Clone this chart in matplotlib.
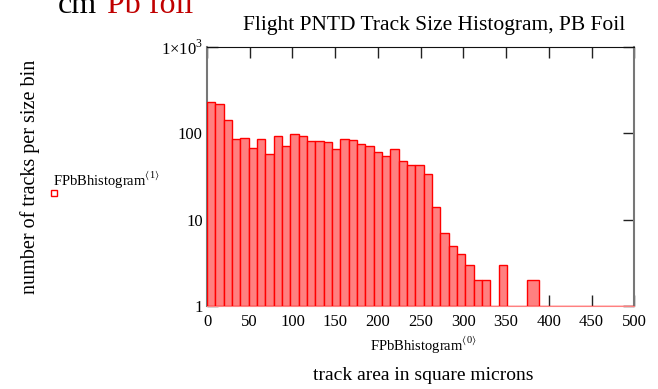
import numpy as np
import matplotlib
matplotlib.use('Agg')
import matplotlib.pyplot as plt
from matplotlib.patches import Rectangle
from matplotlib.ticker import FixedLocator, FixedFormatter, NullLocator

SERIF = ['Liberation Serif', 'DejaVu Serif']

# track counts per size bin (square microns), uniform bins from 0
BIN_WIDTH = 9.75
counts = [233, 221, 144, 87, 89, 68, 87, 57, 92, 72, 97, 94,
          82, 82, 80, 65, 85, 83, 76, 72, 61, 54, 65, 48,
          43, 43, 34, 14, 7, 5, 4, 3, 2, 2, 1, 3, 1, 1]
# tail of the histogram: explicit edges and counts
tail_edges = [370.5, 374.0, 389.0, 500.0]
tail_counts = [1, 2, 1]

x_ticks = [0, 50, 100, 150, 200, 250, 300, 350, 400, 450, 500]
y_ticks = [1, 10, 100, 1000]
y_labels = ['1', '10', '100', r'1$\times$10$^3$']


def main():
	plt.rcParams['font.family'] = SERIF
	plt.rcParams['mathtext.fontset'] = 'custom'
	plt.rcParams['mathtext.rm'] = 'Liberation Serif'

	fig = plt.figure(figsize=(6.58, 3.89), dpi=100)
	ax = fig.add_axes([0.3146, 0.2134, 0.6494, 0.6658])

	lefts = [k * BIN_WIDTH for k in range(len(counts))]
	widths = [BIN_WIDTH] * len(counts)
	lefts += tail_edges[:-1]
	widths += list(np.diff(tail_edges))
	heights = counts + tail_counts

	ax.bar(lefts, np.array(heights) - 1, width=widths, bottom=1, align='edge',
		color='#ff8080', edgecolor='#ff0000', linewidth=1.0, zorder=3)

	ax.set_yscale('log')
	ax.set_xlim(0, 500)
	ax.set_ylim(1, 1000)

	ax.xaxis.set_major_locator(FixedLocator(x_ticks))
	ax.yaxis.set_major_locator(FixedLocator(y_ticks))
	ax.yaxis.set_major_formatter(FixedFormatter(y_labels))
	ax.yaxis.set_minor_locator(NullLocator())
	ax.tick_params(axis='both', direction='in', length=8, width=1, color='#222222',
		top=True, right=True, labelsize=12, pad=6)
	ax.tick_params(axis='y', pad=3)
	for side in ['left', 'right']:
		ax.spines[side].set_color('#777777')
		ax.spines[side].set_linewidth(1.5)
	ax.spines['top'].set_color('#111111')
	ax.spines['bottom'].set_color('#ff8080')

	fig.text(0.660, 0.922, 'Flight PNTD Track Size Histogram, PB Foil', fontsize=15.5,
		ha='center', va='baseline')

	# cut-off heading above the chart
	fig.text(0.088, 0.966, 'cm', fontsize=23, color='black', va='baseline')
	fig.text(0.163, 0.966, 'Pb foil', fontsize=23, color='#c00000', va='baseline')

	fig.text(0.046, 0.546, 'number of tracks per size bin', rotation=90,
		fontsize=14.5, ha='center', va='center')

	# series legend
	fig.text(0.080, 0.525, 'FPbBhistogram$^{\u27e81\u27e9}$', fontsize=10.5,
		ha='left', va='baseline', family=SERIF)
	fig.patches.append(Rectangle((0.078, 0.497), 0.009, 0.014, transform=fig.transFigure,
		fill=False, edgecolor='#ff0000', linewidth=1))

	fig.text(0.643, 0.100, 'FPbBhistogram$^{\u27e80\u27e9}$', fontsize=10.5,
		ha='center', va='baseline', family=SERIF)
	fig.text(0.643, 0.022, 'track area in square microns', fontsize=14,
		ha='center', va='baseline')

	fig.savefig('out.png', dpi=100)


if __name__ == "__main__":
	main()
